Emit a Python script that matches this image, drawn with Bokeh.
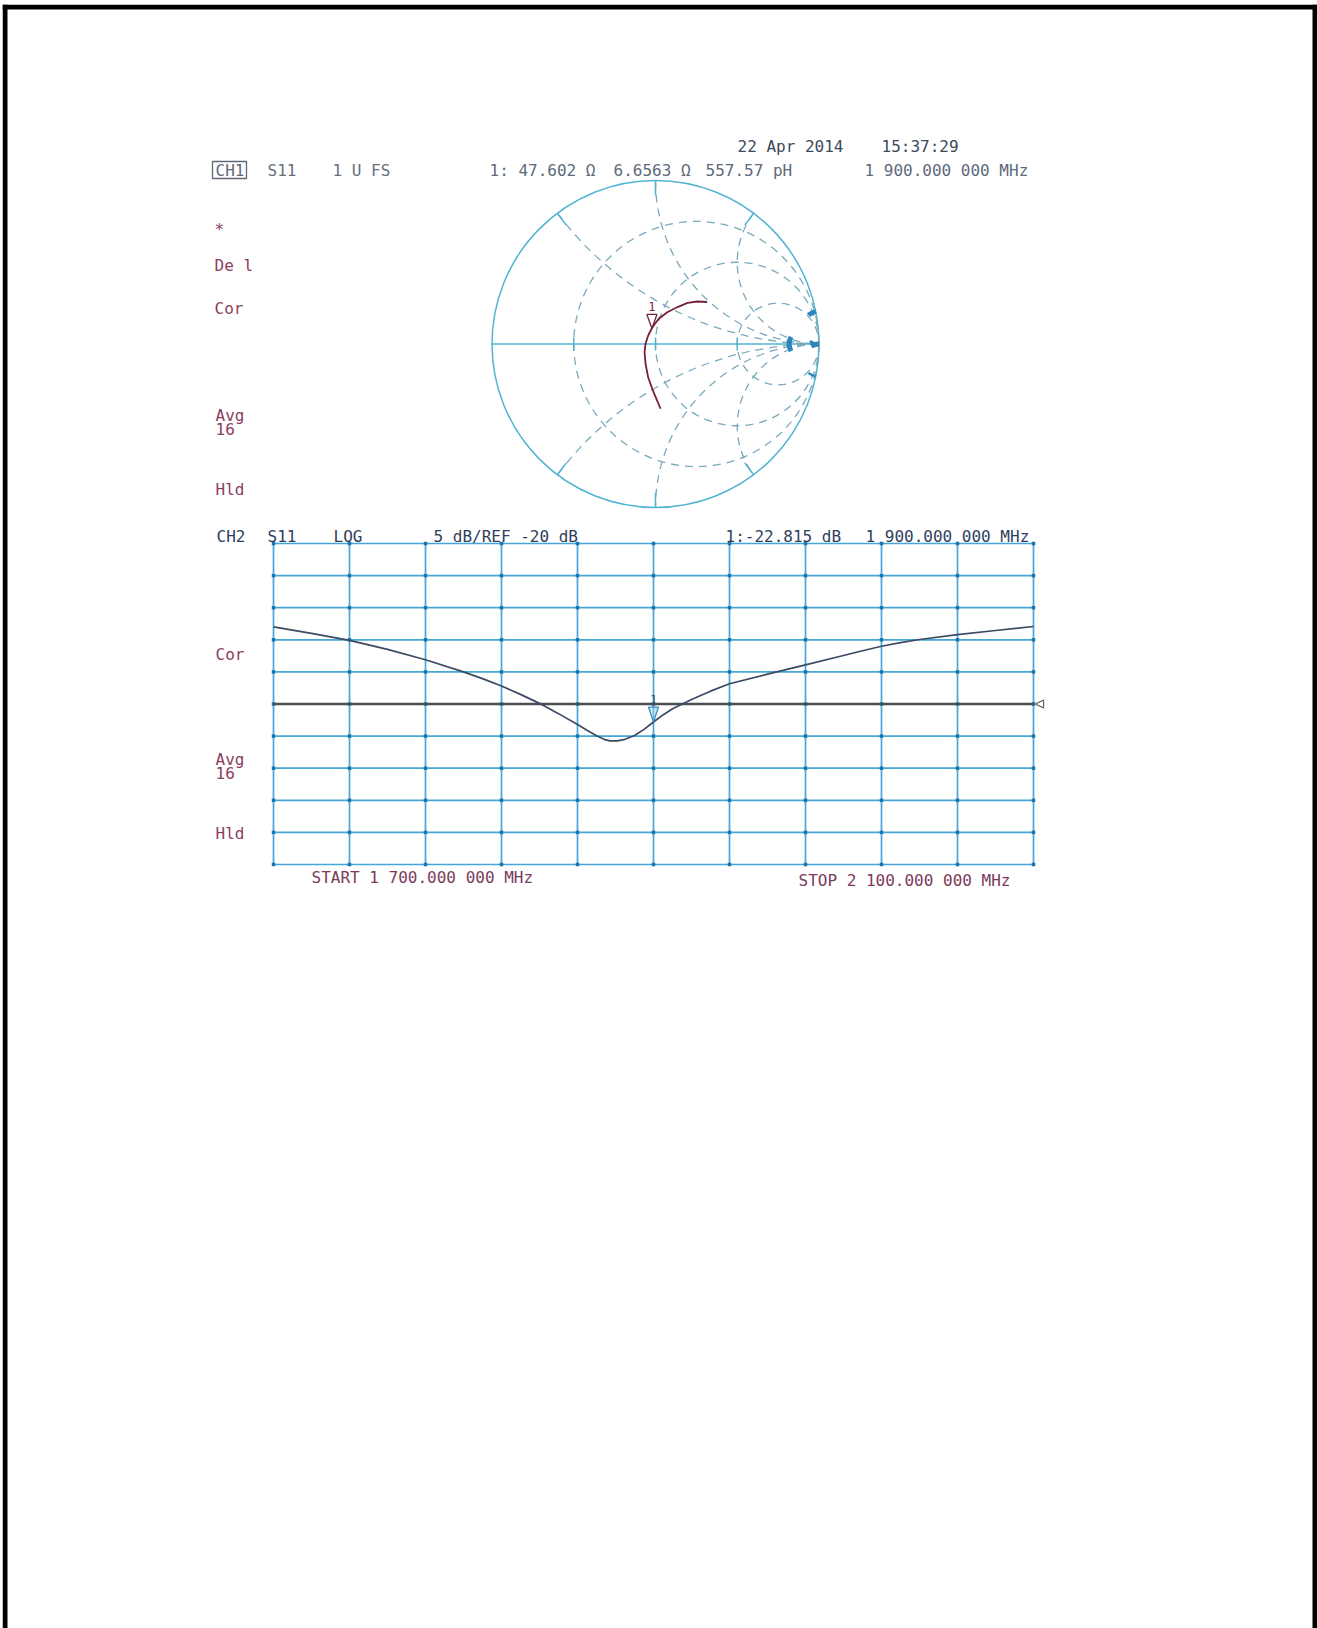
import math
from bokeh.plotting import figure
from bokeh.models import Range1d
from bokeh.core.properties import value
from bokeh.embed import file_html
from bokeh.resources import INLINE

# ---------------- data ----------------
# Channel 2: S11 log magnitude, 1700 - 2100 MHz
freq_mhz = [1700, 1720, 1740, 1760, 1780, 1800, 1810, 1820, 1830, 1840, 1850, 1860,
            1865, 1870, 1874, 1877, 1881, 1885, 1890, 1895, 1900, 1905, 1910, 1916,
            1920, 1930, 1940, 1960, 1980, 2000, 2010, 2020, 2030, 2040, 2060, 2080, 2100]
s11_db = [-8.0, -9.0, -10.1, -11.5, -13.1, -15.0, -16.05, -17.2, -18.5, -19.9, -21.5, -23.2,
          -24.1, -24.95, -25.5, -25.75, -25.75, -25.5, -24.9, -23.95, -22.8, -21.7, -20.75, -19.9,
          -19.3, -18.0, -16.85, -15.35, -13.9, -12.45, -11.7, -11.0, -10.45, -9.95, -9.2, -8.55, -7.93]
freq_ticks = [1700, 1740, 1780, 1820, 1860, 1900, 1940, 1980, 2020, 2060, 2100]
db_ticks = [5, 0, -5, -10, -15, -20, -25, -30, -35, -40, -45]
ref_db = -20
marker_freq = 1900
marker_db = -22.815

# Channel 1: S11 on the Smith chart (reflection coefficient, 1700 -> 2100 MHz)
gamma_re = [0.031, 0.010, -0.020, -0.045, -0.061, -0.067, -0.061, -0.046,
            -0.020, 0.020, 0.072, 0.135, 0.196, 0.255, 0.316]
gamma_im = [-0.396, -0.346, -0.274, -0.203, -0.121, -0.050, 0.001, 0.049,
            0.101, 0.154, 0.194, 0.226, 0.252, 0.260, 0.257]
smith_marker_re = -0.022
smith_marker_im = 0.095
smith_r_circles = [1 / 3, 1, 3]
smith_x_arcs = [0.5, 1, 2]
smith_small_r = [10]
smith_small_x = [10]

# annotation texts
header_date = ["22 Apr 2014", "15:37:29"]
ch1_header = ["S11", "1 U FS"]
ch1_marker = ["1: 47.602 Ω", "6.6563 Ω", "557.57 pH", "1 900.000 000 MHz"]
ch1_side = ["*", "De l", "Cor", "Avg", "16", "Hld"]
ch2_header = ["CH2", "S11", "LOG", "5 dB/REF -20 dB"]
ch2_marker = ["1:-22.815 dB", "1 900.000 000 MHz"]
ch2_side = ["Cor", "Avg", "16", "Hld"]
ch2_footer = ["START 1 700.000 000 MHz", "STOP 2 100.000 000 MHz"]

# ---------------- layout (page pixels) ----------------
PX0, PY0 = 2, 4
W, H = 1315, 1624
LOG_L, LOG_R, LOG_T, LOG_B = 273, 1033, 543, 864
SM_CX, SM_CY, SM_R = 655, 343.5, 163.5
TWO_PI = 2 * math.pi

f0, f1 = freq_ticks[0], freq_ticks[-1]
dtop, dbot = max(db_ticks), min(db_ticks)
fpp = (f1 - f0) / (LOG_R - LOG_L)          # MHz per pixel
dpp = (dtop - dbot) / (LOG_B - LOG_T)      # dB per pixel


def px_to_f(px):
    return f0 + (px - LOG_L) * fpp


def py_to_db(py):
    return dtop - (py - LOG_T) * dpp


def px_to_gx(px):
    return (px - SM_CX) / SM_R


def py_to_gy(py):
    return (SM_CY - py) / SM_R


p = figure(width=W, height=H, output_backend="svg", toolbar_location=None,
           x_range=Range1d(PX0, PX0 + W), y_range=Range1d(PY0 + H, PY0),
           x_axis_location=None, y_axis_location=None, min_border=0)
p.margin = (4, 0, 0, 2)
p.outline_line_color = None
p.grid.visible = False
p.background_fill_color = "white"
p.extra_x_ranges = {"freq": Range1d(px_to_f(PX0), px_to_f(PX0 + W)),
                    "sx": Range1d(px_to_gx(PX0), px_to_gx(PX0 + W))}
p.extra_y_ranges = {"db": Range1d(py_to_db(PY0 + H), py_to_db(PY0)),
                    "sy": Range1d(py_to_gy(PY0 + H), py_to_gy(PY0))}

# page frame
p.quad(left=[2, 2, 1312], right=[7, 1317, 1317], top=[4, 4, 4], bottom=[1628, 9, 1628],
       fill_color="black", line_color=None)

# ---------------- Smith chart ----------------
SM = dict(x_range_name="sx", y_range_name="sy")
GRID_SOLID = "#52b4d2"
GRID_DASH = "#7aaabd"
DENSE = "#2a86bb"
p.circle(x=[0], y=[0], radius=[1], fill_color=None, line_color=GRID_SOLID, line_width=1.5, **SM)
p.line(x=[-1, 1], y=[0, 0], line_color=GRID_SOLID, line_width=1.5, **SM)
# resistance circles
p.circle(x=[r / (1 + r) for r in smith_r_circles], y=[0] * len(smith_r_circles),
         radius=[1 / (1 + r) for r in smith_r_circles], fill_color=None,
         line_color=GRID_DASH, line_width=1.3, line_dash="8 6", **SM)


def arc_params(xs):
    """Reactance arcs x = +X and x = -X (parts inside the unit circle)."""
    cx, cy, rad, a0, a1 = [], [], [], [], []
    for X in xs:
        ae = math.atan2((X * X - 1) / X, -2.0) % TWO_PI
        cx += [1, 1]
        cy += [1 / X, -1 / X]
        rad += [1 / X, 1 / X]
        a0 += [ae, math.pi / 2]
        a1 += [1.5 * math.pi, (-ae) % TWO_PI]
    return cx, cy, rad, a0, a1


cx, cy, rad, a0, a1 = arc_params(smith_x_arcs)
p.arc(x=cx, y=cy, radius=rad, start_angle=a0, end_angle=a1, line_color=GRID_DASH,
      line_width=1.3, line_dash="8 6", **SM)

# dense small circles near the open-circuit point: only their ink blobs show
for r in smith_small_r:
    p.arc(x=[r / (1 + r)], y=[0], radius=[1 / (1 + r)], start_angle=[math.pi - 0.5],
          end_angle=[math.pi + 0.5], line_color=DENSE, line_width=5, **SM)
for X in smith_small_x:
    ae = math.atan2((X * X - 1) / X, -2.0) % TWO_PI
    p.arc(x=[1, 1], y=[1 / X, -1 / X], radius=[1 / X, 1 / X],
          start_angle=[ae, math.pi / 2], end_angle=[ae + 0.5, math.pi / 2 + 0.5],
          line_color=DENSE, line_width=5, **SM)
    p.arc(x=[1, 1], y=[1 / X, -1 / X], radius=[1 / X, 1 / X],
          start_angle=[1.5 * math.pi - 0.6, (-ae) % TWO_PI - 0.5],
          end_angle=[1.5 * math.pi, (-ae) % TWO_PI],
          line_color=DENSE, line_width=2.5, **SM)

# solid ticks at arc ends on the outer circle and on the real axis
tx0, ty0, tx1, ty1 = [], [], [], []
for X in smith_x_arcs:
    th = math.atan2(2 * X / (X * X + 1), (X * X - 1) / (X * X + 1))
    for s in (1, -1):
        tx0.append(math.cos(th)); ty0.append(s * math.sin(th))
        tx1.append(0.91 * math.cos(th)); ty1.append(s * 0.91 * math.sin(th))
for r in smith_r_circles:
    g = (r - 1) / (r + 1)
    tx0.append(g); ty0.append(-0.04); tx1.append(g); ty1.append(0.04)
p.segment(x0=tx0, y0=ty0, x1=tx1, y1=ty1, line_color=GRID_SOLID, line_width=1.5, **SM)

# trace
TRACE1 = "#74203f"
p.line(x=gamma_re, y=gamma_im, line_color=TRACE1, line_width=1.8, **SM)
# marker 1
mw, mh = 5 / SM_R, 14 / SM_R
p.patch(x=[smith_marker_re, smith_marker_re - mw, smith_marker_re + mw],
        y=[smith_marker_im, smith_marker_im + mh, smith_marker_im + mh],
        fill_color=None, line_color=TRACE1, line_width=1.3, **SM)
p.text(x=[smith_marker_re], y=[smith_marker_im + mh + 3 / SM_R], text=["1"],
       text_font=value("DejaVu Sans Mono"), text_font_size=value("12px"),
       text_color=TRACE1, text_align="center", text_baseline="bottom", **SM)

# ---------------- log magnitude chart ----------------
LG = dict(x_range_name="freq", y_range_name="db")
GRID2 = "#45a7d6"
n_f, n_d = len(freq_ticks), len(db_ticks)
p.segment(x0=freq_ticks, y0=[dbot] * n_f, x1=freq_ticks, y1=[dtop] * n_f,
          line_color=GRID2, line_width=1.7, **LG)
p.segment(x0=[f0] * n_d, y0=db_ticks, x1=[f1] * n_d, y1=db_ticks,
          line_color=GRID2, line_width=1.7, **LG)
p.scatter(x=[f for f in freq_ticks for _ in db_ticks], y=[d for _ in freq_ticks for d in db_ticks],
          size=3.5, marker="square", fill_color="#1b74ad", line_color=None, **LG)
# reference line and its indicator
p.line(x=[f0, f1], y=[ref_db, ref_db], line_color="#4a4d52", line_width=2.4, **LG)
p.patch(x=[f1 + 2 * fpp, f1 + 10 * fpp, f1 + 10 * fpp],
        y=[ref_db, ref_db + 4 * dpp, ref_db - 4 * dpp],
        fill_color=None, line_color="#5a5d62", line_width=1.2, **LG)
# trace
p.line(x=freq_mhz, y=s11_db, line_color="#3b4b64", line_width=1.7, line_join="round", **LG)
# marker 1
p.patch(x=[marker_freq, marker_freq - 5 * fpp, marker_freq + 5 * fpp],
        y=[marker_db, marker_db + 15 * dpp, marker_db + 15 * dpp],
        fill_color="#9fd3ee", fill_alpha=0.5, line_color="#3a8fc0", line_width=1.3, **LG)
p.text(x=[marker_freq], y=[marker_db + 18 * dpp], text=["1"],
       text_font=value("DejaVu Sans Mono"), text_font_size=value("12px"),
       text_color="#3b4b64", text_align="center", text_baseline="bottom", **LG)

# ---------------- texts (page coordinates) ----------------
FONT = value("DejaVu Sans Mono")


def put(xs, ys, texts, color, size="16px"):
    p.text(x=xs, y=ys, text=texts, text_font=FONT, text_font_size=value(size),
           text_color=color, text_align="left", text_baseline="middle")


put([737, 881], [145.5, 145.5], header_date, "#3b4a5c")
put([215], [169.5], ["CH1"], "#5f6877")
p.quad(left=[212], right=[246], top=[161], bottom=[178], fill_color=None,
       line_color="#5f6877", line_width=1.3)
put([267, 332], [169.5, 169.5], ch1_header, "#66707e")
put([489, 613, 705, 864], [169.5] * 4, ch1_marker, "#5d6a7b")
put([214, 214, 214, 215, 215, 215], [229, 265, 308, 415, 428, 489], ch1_side, "#8b3d62")
put([216, 267, 333, 433], [536] * 4, ch2_header, "#2f3e5c")
put([725, 865], [536, 536], ch2_marker, "#2f3e5c")
put([215, 215, 215, 215], [654, 759, 772, 833], ch2_side, "#8b3d62")
put([311, 798], [877, 880], ch2_footer, "#7b3b5c")

open("out.html", "w").write(file_html(p, INLINE))
